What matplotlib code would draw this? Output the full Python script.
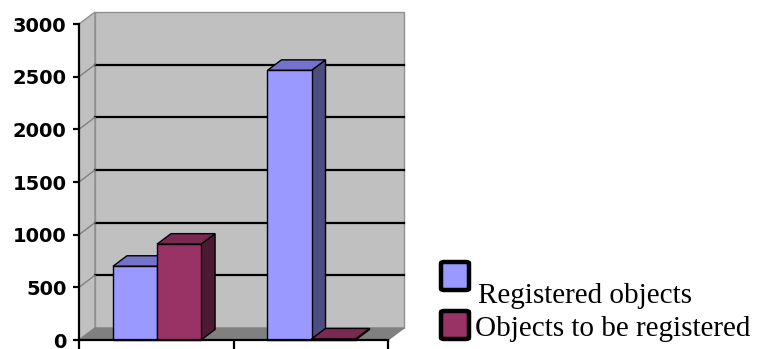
import matplotlib
matplotlib.use("Agg")
import matplotlib.pyplot as plt
from matplotlib.patches import Polygon, FancyBboxPatch
import numpy as np

# ---- data ----
categories = ["", ""]
series_names = ["Registered objects", "Objects to be registered"]
registered = [700, 2560]
to_register = [910, 10]
y_ticks = [0, 500, 1000, 1500, 2000, 2500, 3000]

# ---- styles ----
front_cols = ["#9999FF", "#993366"]
top_cols = ["#7373CC", "#7A2952"]
side_cols = ["#4D4D80", "#4D1A33"]
wall_col = "#C0C0C0"
floor_col = "#808080"

W, H = 764, 349
fig = plt.figure(figsize=(W / 100, H / 100), dpi=100)
ax = fig.add_axes([79 / W, 9 / H, 309 / W, 316 / H])
ax.set_xlim(0, 2)
ax.set_ylim(0, 3000)

# depth offsets in data units
px_x = 2 / 309.0
px_y = 3000 / 316.0
wdx, wdy = 16 * px_x, 12 * px_y      # wall depth
bdx, bdy = 14 * px_x, 10.5 * px_y    # bar depth

ymax = y_ticks[-1]
# side wall
ax.add_patch(Polygon([(0, 0), (0, ymax), (wdx, ymax + wdy), (wdx, wdy)],
                     closed=True, fc=wall_col, ec="#909090", lw=1, zorder=0.5, clip_on=False))
# back wall
ax.add_patch(Polygon([(wdx, wdy), (wdx, ymax + wdy), (2 + wdx, ymax + wdy), (2 + wdx, wdy)],
                     closed=True, fc=wall_col, ec="#909090", lw=1, zorder=0.5, clip_on=False))
# floor
ax.add_patch(Polygon([(0, 0), (2, 0), (2 + wdx, wdy), (wdx, wdy)],
                     closed=True, fc=floor_col, ec=floor_col, lw=1, zorder=0.6, clip_on=False))
# gridlines
for v in y_ticks[1:-1]:
    ax.plot([wdx, 2 + wdx], [v + wdy, v + wdy], color="black", lw=1.6, zorder=0.7, clip_on=False)
    ax.plot([0, wdx], [v, v + wdy], color="#808080", lw=1, zorder=0.7, clip_on=False)

# bars
width = 0.285
centers = np.arange(len(categories)) + 0.5
series = [registered, to_register]
z = 2
for ci, c in enumerate(centers):
    for si, vals in enumerate(series):
        x0 = c - width + si * width + 0.005
        v = vals[ci]
        # side face
        ax.add_patch(Polygon([(x0 + width, 0), (x0 + width + bdx, bdy),
                              (x0 + width + bdx, v + bdy), (x0 + width, v)],
                             closed=True, fc=side_cols[si], ec="black", lw=1, zorder=z, clip_on=False))
        # top face
        ax.add_patch(Polygon([(x0, v), (x0 + bdx, v + bdy), (x0 + width + bdx, v + bdy), (x0 + width, v)],
                             closed=True, fc=top_cols[si], ec="black", lw=1, zorder=z, clip_on=False))
        ax.bar(x0, v, width=width, align="edge", color=front_cols[si], edgecolor="black",
               lw=1, zorder=z + 0.5, clip_on=False)
        z += 1

# axes styling
for s in ["top", "right"]:
    ax.spines[s].set_visible(False)
ax.spines["left"].set_linewidth(1.6)
ax.spines["bottom"].set_linewidth(1.6)
ax.spines["left"].set_zorder(20)
ax.spines["bottom"].set_zorder(20)
ax.set_facecolor("none")
ax.set_yticks(y_ticks)
ax.set_yticklabels([str(t) for t in y_ticks], fontsize=14, fontweight="bold",
                   family="DejaVu Sans")
ax.set_xticks([0, 1, 2])
ax.set_xticklabels(["", "", ""])
ax.tick_params(axis="y", length=4, width=1.6, pad=5, direction="out")
ax.tick_params(axis="x", length=7, width=1.6, direction="out")

# legend (manual)
def fx(px):
    return px / W

def fy(py):
    return 1 - py / H

for i, (name, top_px, base_px, tx) in enumerate(zip(series_names, [262, 311], [303, 336], [478, 475])):
    fig.patches.append(FancyBboxPatch((fx(441), fy(top_px + 28)), 28 / W, 28 / H,
                                      boxstyle="round,pad=0,rounding_size=0.004",
                                      transform=fig.transFigure, fc=front_cols[i], ec="black", lw=3.2))
    fig.text(fx(tx), fy(base_px), name, fontsize=21, family="Liberation Serif",
             va="baseline", ha="left")

fig.savefig("out.png", dpi=100)
